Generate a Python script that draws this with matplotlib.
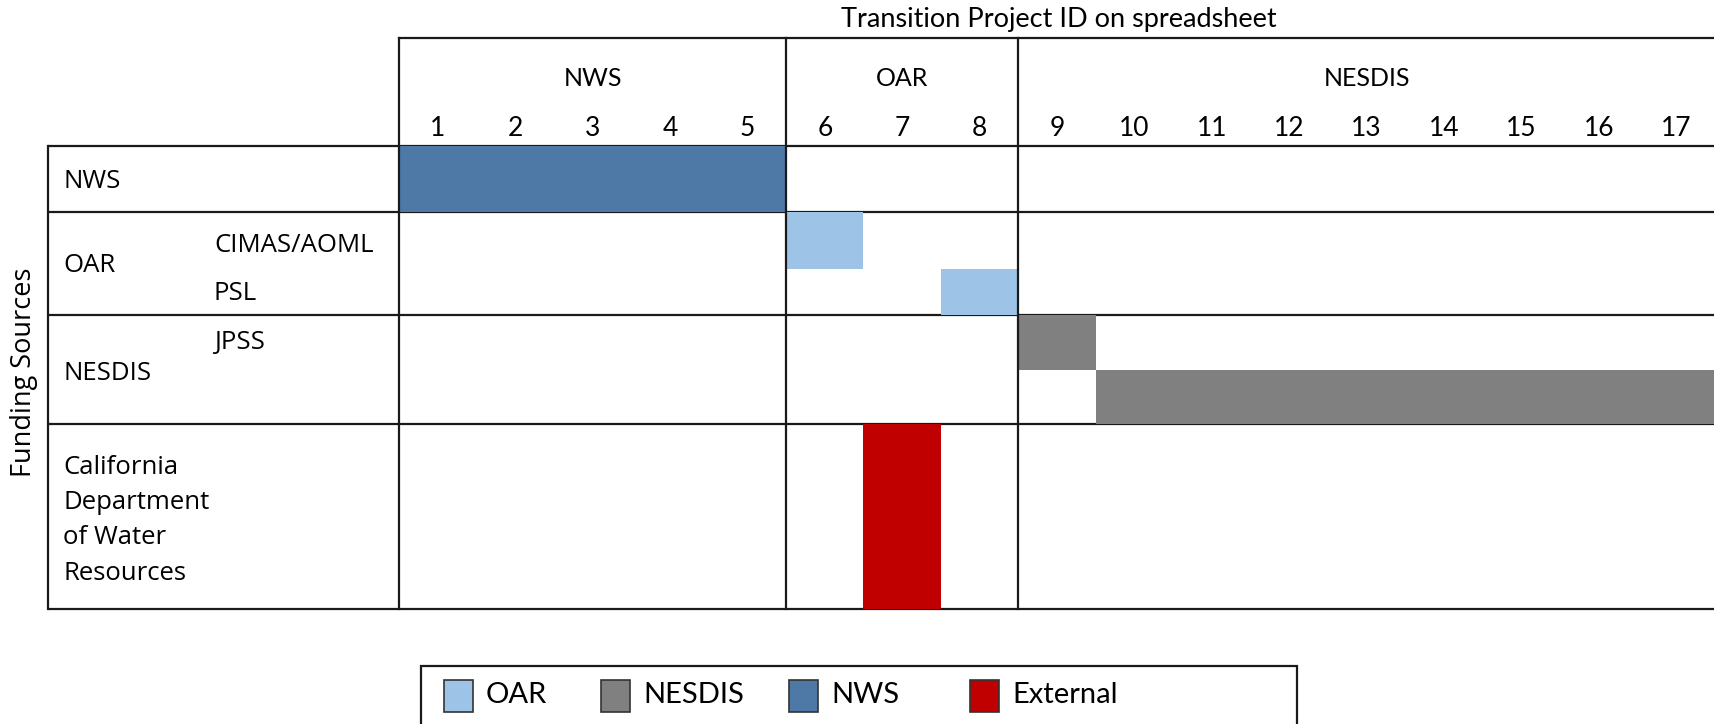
import matplotlib
matplotlib.use("Agg")
import matplotlib.pyplot as plt
from matplotlib.patches import Rectangle

# Data: project columns grouped by the agency that runs them
groups = ["NWS", "OAR", "NESDIS"]
group_sizes = [5, 3, 9]
project_ids = list(range(1, 18))

# Funding rows (main source, sub-source)
row_labels = ["NWS", "OAR", "NESDIS", "California\nDepartment\nof Water\nResources"]
sub_labels = ["", "CIMAS/AOML", "PSL", "JPSS", "", ""]

# Funded spans: (sub-row index, first project, last project, funder)
spans_row = [0, 1, 2, 3, 4, 5]
spans_start = [1, 6, 8, 9, 10, 7]
spans_end = [5, 6, 8, 9, 17, 7]
spans_funder = ["NWS", "OAR", "OAR", "NESDIS", "NESDIS", "External"]

legend_names = ["OAR", "NESDIS", "NWS", "External"]
colors = {"OAR": "#9DC3E6", "NESDIS": "#808080", "NWS": "#4E79A7", "External": "#C00000"}

# Layout in pixels (figure is 1715 x 724)
W, H = 1715, 724
sub_edges = [145.5, 212, 269, 315, 370, 424, 609]   # top/bottom of each sub-row
main_edges = [145.5, 212, 315, 424, 609]            # drawn row lines
header_top = 38
table_left = 48
grid_left = 399
col_w = (W - grid_left) / 17

header_font = "Lato"
label_font = "Open Sans"
lw = 1.6
label_size = 18.5

fig = plt.figure(figsize=(W / 100, H / 100), dpi=100)

# canvas axes in pixel coordinates for layout text and lines
cv = fig.add_axes([0, 0, 1, 1])
cv.set_xlim(0, W)
cv.set_ylim(H, 0)
cv.axis("off")

# grid axes in project-column units
gx = fig.add_axes([grid_left / W, 1 - sub_edges[-1] / H,
                   (W - grid_left) / W, (sub_edges[-1] - sub_edges[0]) / H])
gx.set_xlim(0.5, 17.5)
gx.set_ylim(sub_edges[-1], sub_edges[0])
gx.axis("off")

for r, s, e, f in zip(spans_row, spans_start, spans_end, spans_funder):
    top, bot = sub_edges[r], sub_edges[r + 1]
    gx.broken_barh([(s - 0.5, e - s + 1)], (top, bot - top), facecolors=colors[f],
                   edgecolor="none", zorder=1)

# horizontal row lines
for y in main_edges:
    cv.plot([table_left, W], [y, y], color="#1a1a1a", lw=lw, solid_capstyle="butt", zorder=3)
cv.plot([grid_left, W], [header_top, header_top], color="#1a1a1a", lw=lw, zorder=3)
cv.plot([table_left, table_left], [main_edges[0], main_edges[-1]], color="#1a1a1a", lw=lw, zorder=3)

# vertical group separators, extending up through the header
ext = (sub_edges[-1] - header_top) / (sub_edges[-1] - sub_edges[0])
bounds = [0.5]
for n in group_sizes:
    bounds.append(bounds[-1] + n)
for b in bounds[:-1]:
    gx.axvline(b, ymin=0, ymax=ext, color="#1a1a1a", lw=lw, clip_on=False, zorder=3)

# group names and project ids
for g, a, b in zip(groups, bounds[:-1], bounds[1:]):
    xc = grid_left + ((a + b) / 2 - 0.5) * col_w
    cv.text(xc, 78, g, ha="center", va="center", fontsize=18, family=header_font)
for pid in project_ids:
    xc = grid_left + (pid - 0.5) * col_w
    cv.text(xc, 129, str(pid), ha="center", va="center", fontsize=19, family=header_font)

cv.text(1059, 20, "Transition Project ID on spreadsheet", ha="center", va="center",
        fontsize=19.5, family=header_font)
cv.text(24, 372, "Funding Sources", ha="center", va="center", rotation=90,
        fontsize=19.5, family=label_font)

# row labels
row_y = [182, 266, 373, None]
for lab, y in zip(row_labels[:3], row_y[:3]):
    cv.text(63, y, lab, ha="left", va="center", fontsize=label_size, family=label_font)
for i, line in enumerate(row_labels[3].split("\n")):
    cv.text(63, 467 + i * 35.5, line, ha="left", va="center", fontsize=label_size,
            family=label_font)
sub_y = [None, 245, 293, 343, None, None]
for lab, y in zip(sub_labels, sub_y):
    if lab:
        cv.text(214, y, lab, ha="left", va="center", fontsize=label_size, family=label_font)

# legend box, bottom runs off the figure
cv.add_patch(Rectangle((421, 666), 876, 80, facecolor="white", edgecolor="#1a1a1a",
                       lw=lw, zorder=2, clip_on=False))
leg_x = [444, 601, 789, 970]
for name, x in zip(legend_names, leg_x):
    cv.add_patch(Rectangle((x, 680), 29, 32, facecolor=colors[name], edgecolor="#333333",
                           lw=1.2, zorder=3))
    cv.text(x + 42, 695, name, ha="left", va="center", fontsize=21, family=header_font, zorder=3)

fig.savefig("out.png", dpi=100)
